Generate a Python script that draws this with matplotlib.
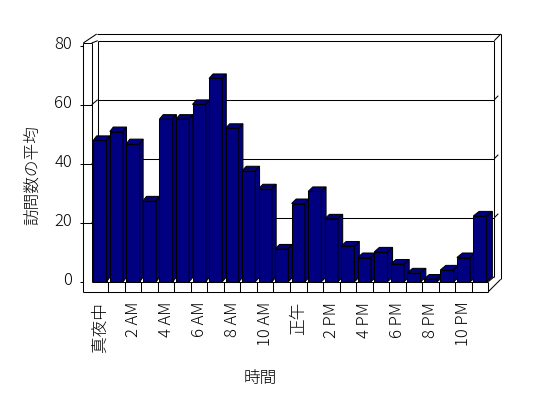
import numpy as np
import matplotlib.pyplot as plt
from matplotlib.patches import Polygon

plt.rcParams['font.family'] = ['Noto Sans CJK JP', 'DejaVu Sans']
plt.rcParams['font.weight'] = 'light'

# average visits per hour (24 hours, midnight first)
hours = list(range(24))
visits = [47.9, 50.9, 46.8, 27.4, 55.1, 55.1, 60.1, 68.9, 52.0, 37.6, 31.5, 11.1,
          26.5, 30.6, 21.3, 12.1, 8.2, 10.1, 6.0, 3.0, 0.9, 4.0, 8.2, 22.3]
tick_pos = list(range(0, 24, 2))
tick_labels = ['真夜中', '2 AM', '4 AM', '6 AM', '8 AM', '10 AM',
               '正午', '2 PM', '4 PM', '6 PM', '8 PM', '10 PM']
y_ticks = [0, 20, 40, 60, 80]

W, H = 548, 398
fig = plt.figure(figsize=(W / 100, H / 100), dpi=100)
left, right, bottom, top = 91.7, 488.3, 281.7, 45.7
ax = fig.add_axes([left / W, 1 - bottom / H, (right - left) / W, (bottom - top) / H])
X0, X1, Y0, Y1 = -0.5, 23.5, 0, 80
ax.set_xlim(X0, X1)
ax.set_ylim(Y0, Y1)
ax.axis('off')

# data units per pixel, so the 3d offsets can be given in pixels
sx = (X1 - X0) / (right - left)
sy = (Y1 - Y0) / (bottom - top)


def pt(x, y, dx=0, dy=0):
    return (x + dx * sx, y + dy * sy)


def seg(p, q):
    ax.plot([p[0], q[0]], [p[1], q[1]], color='black', lw=0.75,
            clip_on=False, solid_capstyle='butt', zorder=1)


B = (6, 5)  # depth of the back wall

# back wall
seg(pt(X0, Y0, *B), pt(X0, Y1, *B))
seg(pt(X0, Y1, *B), pt(X1, Y1, *B))
seg(pt(X1, Y0, *B), pt(X1, Y1, *B))

# gridlines + ticks
for v in y_ticks:
    seg(pt(X0, v, -11.7, 0), pt(X0, v, -8.4, 0))
    if 0 < v < 80:
        seg(pt(X0, v, *B), pt(X1, v, *B))
        seg(pt(X0, v), pt(X0, v, *B))
        seg(pt(X0, v, -8.4, 0), pt(X0, v))
        seg(pt(X1, v, *B), pt(X1, v, B[0] + 4, B[1] + 4))
    ax.text(X0 - 19.7 * sx, v + 1.2 * sy, str(v), ha='right', va='center',
            fontsize=12, clip_on=False)

# left wall
seg(pt(X0, Y0, -8.4, -10), pt(X0, Y1, -8.4, 2.7))
seg(pt(X0, Y0), pt(X0, Y1, 0, 2.7))
seg(pt(X0, Y1, -8.4, 2.7), pt(X0, Y1, 0, 2.7))
seg(pt(X0, Y1, -8.4, 2.7), pt(X0, Y1, 5, 11.7))
seg(pt(X0, Y1, 0, 2.7), pt(X0, Y1, *B))

# top and right edges
seg(pt(X0, Y1, 5, 11.7), pt(X1, Y1, 12.4, 11.7))
seg(pt(X1, Y1, 12.4, 11.7), pt(X1, Y0, 12.4, 2.4))
seg(pt(X1, Y1, *B), pt(X1, Y1, 12.4, 11.7))

# floor
seg(pt(X0, Y0, -8.4, -10), pt(X1, Y0, 0, -10))
seg(pt(X0, Y0), pt(X1, Y0))
seg(pt(X1, Y0), pt(X1, Y0, 0, -10))
seg(pt(X1, Y0, 0, -10), pt(X1, Y0, 12.4, 2.4))
seg(pt(X1, Y0), pt(X1, Y0, *B))
for k in range(1, 24):
    seg(pt(k - 0.5, Y0), pt(k - 0.5, Y0, 0, -10))

# bars
navy = '#000080'
bw = 0.8
bars = ax.bar(hours, visits, width=bw, color=navy, edgecolor='black', lw=0.75)
for i, (p, v) in enumerate(zip(bars.patches, visits)):
    z = 3 + i * 0.01
    p.set_zorder(z)
    p.set_joinstyle('miter')
    x0, x1 = i - bw / 2, i + bw / 2
    dxp = 3.3 + 2.4 * i / 23
    dyp = 4.5
    top_face = Polygon([pt(x0, v), pt(x1, v), pt(x1, v, dxp, dyp), pt(x0, v, dxp, dyp)],
                       closed=True, fc=navy, ec='black', lw=0.75, zorder=z,
                       clip_on=False, joinstyle='miter')
    side_face = Polygon([pt(x1, Y0), pt(x1, v), pt(x1, v, dxp, dyp), pt(x1, Y0, dxp, dyp)],
                        closed=True, fc=navy, ec='black', lw=0.75, zorder=z,
                        clip_on=False, joinstyle='miter')
    ax.add_patch(top_face)
    ax.add_patch(side_face)

for pos, lab in zip(tick_pos, tick_labels):
    ax.text(pos, Y0 - 20 * sy, lab, rotation=90, ha='center', va='top',
            fontsize=12, clip_on=False)

fig.text(260 / W, 1 - 378 / H, '時間', ha='center', va='center', fontsize=12)
fig.text(32 / W, 1 - 175 / H, '訪問数の平均', rotation=90, ha='center',
         va='center', fontsize=12)

fig.savefig('out.png', dpi=100)
